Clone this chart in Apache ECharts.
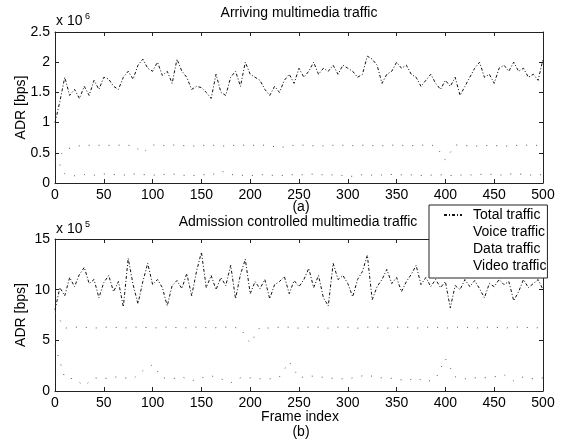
<!DOCTYPE html>
<html>
<head>
<meta charset="utf-8">
<script src="https://cdn.jsdelivr.net/npm/echarts@6/dist/echarts.min.js"></script>
<style>
    html, body { margin: 0; padding: 0; background: #fff; }
    #chart { width: 565px; height: 444px; }
</style>
</head>
<body>
<div id="chart"></div>
<script>
// frame indices (every 5 frames for total, every 10 for the component traffic)
const framesFine = [];
for (let f = 0; f <= 500; f += 5) framesFine.push(f);
const framesCoarse = [];
for (let f = 0; f <= 500; f += 10) framesCoarse.push(f);

// (a) arriving traffic, x 10^6 bps
const arrivingTotal = [
    1.0, 1.35, 1.75, 1.45, 1.55, 1.4, 1.6, 1.45, 1.7, 1.55,
    1.75, 1.72, 1.6, 1.55, 1.75, 1.85, 1.72, 1.95, 2.05, 1.9,
    1.85, 2.0, 1.78, 1.85, 1.65, 2.05, 1.85, 1.75, 1.55, 1.6,
    1.58, 1.5, 1.4, 1.8, 1.5, 1.45, 1.75, 1.85, 1.6, 2.0,
    1.8, 1.75, 1.7, 1.55, 1.45, 1.6, 1.5, 1.7, 1.8, 1.65,
    1.9, 1.75, 1.85, 2.0, 1.8, 1.9, 1.85, 1.95, 1.8, 1.95,
    1.9, 1.85, 1.75, 1.8, 2.1, 2.05, 1.95, 1.65, 1.8, 1.85,
    2.0, 1.9, 1.95, 1.8, 1.75, 1.6, 1.7, 1.8, 1.65, 1.55,
    1.7, 1.6, 1.75, 1.45, 1.6, 1.75, 1.9, 2.0, 1.75, 1.8,
    1.65, 1.9, 1.95, 1.85, 2.0, 1.85, 1.9, 1.75, 1.8, 1.7,
    2.05
];
const arrivingVoice = [
    0.35, 0.55, 0.6, 0.63, 0.62, 0.63, 0.62, 0.63, 0.62, 0.5,
    0.63, 0.62, 0.63, 0.62, 0.61, 0.62, 0.63, 0.61, 0.62, 0.63,
    0.62, 0.63, 0.62, 0.58, 0.62, 0.63, 0.62, 0.61, 0.62, 0.63,
    0.62, 0.62, 0.63, 0.61, 0.62, 0.63, 0.62, 0.62, 0.63, 0.62,
    0.38, 0.63, 0.62, 0.61, 0.62, 0.62, 0.61, 0.62, 0.63, 0.62,
    0.63
];
const arrivingData = [
    0.45, 0.15, 0.12, 0.14, 0.13, 0.15, 0.14, 0.13, 0.15, 0.14,
    0.13, 0.14, 0.15, 0.13, 0.12, 0.14, 0.13, 0.2, 0.14, 0.13,
    0.12, 0.14, 0.13, 0.12, 0.14, 0.13, 0.15, 0.14, 0.13, 0.14,
    0.1, 0.13, 0.14, 0.12, 0.15, 0.13, 0.14, 0.13, 0.12, 0.14,
    0.13, 0.12, 0.14, 0.13, 0.15, 0.14, 0.13, 0.16, 0.14, 0.13,
    0.14
];

// (b) admission controlled traffic, x 10^5 bps
const admittedTotal = [
    8.0, 10.2, 9.4, 11.2, 10.3, 11.5, 12.2, 10.6, 11.0, 9.2,
    10.7, 11.4, 9.8, 10.8, 8.3, 13.1, 10.5, 8.6, 10.8, 12.6,
    10.5, 11.0, 10.2, 8.4, 10.4, 10.9, 10.1, 11.6, 9.4, 11.8,
    13.7, 10.2, 11.4, 10.0, 11.2, 10.4, 12.4, 9.1, 11.5, 13.0,
    9.6, 10.8, 10.1, 11.0, 9.1, 10.5, 10.8, 11.3, 9.6, 10.9,
    10.3, 11.0, 12.1, 10.2, 11.4, 9.2, 8.4, 12.6, 11.0, 11.4,
    10.6, 9.3, 11.0, 11.8, 13.4, 9.0, 10.3, 11.0, 12.0, 10.6,
    11.2, 9.8, 10.8, 11.5, 12.4, 10.5, 11.2, 10.3, 11.0, 10.2,
    10.8, 8.2, 10.4, 10.0, 11.0, 10.3, 10.9, 10.1, 9.2, 10.6,
    10.3, 11.0, 10.5, 10.8, 8.9, 9.8, 11.0, 10.2, 10.6, 11.0,
    10.0
];
const admittedVoice = [
    7.8, 6.2, 6.3, 6.3, 6.2, 6.3, 6.3, 6.2, 6.3, 6.3,
    6.2, 6.3, 6.3, 6.2, 6.3, 6.3, 6.2, 6.3, 6.3, 6.2,
    4.7, 6.3, 6.2, 6.3, 6.3, 6.2, 6.3, 6.3, 6.2, 6.3,
    6.3, 6.2, 6.3, 6.3, 6.2, 6.3, 6.3, 6.2, 6.3, 6.3,
    6.2, 6.3, 6.3, 6.2, 6.3, 6.3, 6.2, 6.3, 6.3, 6.2,
    6.3
];
const admittedData = [
    4.5, 1.3, 1.2, 0.5, 1.3, 1.2, 1.4, 1.3, 1.2, 2.0,
    2.6, 1.3, 1.2, 1.4, 1.0, 1.3, 1.5, 1.2, 0.8, 1.3,
    1.3, 1.2, 1.2, 1.4, 2.9, 1.3, 1.5, 1.4, 1.3, 1.2,
    1.2, 1.4, 1.6, 1.3, 1.3, 1.2, 1.0, 1.3, 0.9, 1.2,
    3.2, 1.4, 1.2, 1.3, 1.3, 1.4, 1.6, 1.0, 1.4, 1.2,
    1.3
];
const admittedVideo = [];

const xTicks = { min: 0, max: 500, interval: 50 };
const yTicksA = { min: 0, max: 2.5, interval: 0.5 };
const yTicksB = { min: 0, max: 15, interval: 5 };

const FONT = "Liberation Sans";
const totalStyle = { color: "#111", width: 1, type: [3, 2, 1, 2] };
const faintStyle = { color: "#555", width: 1, type: [1, 9] };

function pairs(xs, ys) {
    return ys.map(function (v, i) {
        return [xs[i], v];
    });
}

// box style axes like a matlab figure: ticks inward on all four sides
function boxX(gridIndex, showLabels, position) {
    return {
        type: "value",
        gridIndex: gridIndex,
        position: position,
        min: xTicks.min,
        max: xTicks.max,
        interval: xTicks.interval,
        axisLine: { show: true, onZero: false, lineStyle: { color: "#222", width: 1 } },
        axisTick: { show: true, inside: true, length: 4, lineStyle: { color: "#222" } },
        axisLabel: { show: showLabels, color: "#000", fontFamily: FONT, fontSize: 14, margin: 5 },
        splitLine: { show: false },
    };
}
function boxY(gridIndex, ticks, showLabels, position) {
    const axis = {
        type: "value",
        gridIndex: gridIndex,
        position: position,
        min: ticks.min,
        max: ticks.max,
        interval: ticks.interval,
        axisLine: { show: true, onZero: false, lineStyle: { color: "#222", width: 1 } },
        axisTick: { show: true, inside: true, length: 4, lineStyle: { color: "#222" } },
        axisLabel: { show: showLabels, color: "#000", fontFamily: FONT, fontSize: 14, margin: 5 },
        splitLine: { show: false },
    };
    if (showLabels) {
        axis.name = "ADR [bps]";
        axis.nameLocation = "middle";
        axis.nameGap = 27;
        axis.nameMoveOverlap = false;
        axis.nameTextStyle = { color: "#000", fontFamily: FONT, fontSize: 14 };
    }
    return axis;
}

const chart = echarts.init(document.getElementById("chart"));

const textStyle = { color: "#000", fontFamily: FONT, fontSize: 14, fontWeight: "normal" };
const expStyle = { color: "#000", fontFamily: FONT, fontSize: 14, fontWeight: "normal" };
const supStyle = { color: "#000", fontFamily: FONT, fontSize: 9, fontWeight: "normal" };

function label(text, left, top, style, align) {
    return { text: text, left: left, top: top, padding: 0, textAlign: align || "left", textStyle: style };
}

const option = {
    animation: false,
    backgroundColor: "#fff",
    title: [
        label("Arriving multimedia traffic", 299, 6, textStyle, "center"),
        label("x 10", 56, 14, expStyle),
        label("6", 85, 12, supStyle),
        label("(a)", 301, 200, textStyle, "center"),
        label("Admission controlled multimedia traffic", 298, 215, textStyle, "center"),
        label("x 10", 56, 222, expStyle),
        label("5", 85, 220, supStyle),
        label("Frame index", 300, 410, textStyle, "center"),
        label("(b)", 301, 425, textStyle, "center"),
    ],
    legend: {
        orient: "vertical",
        left: 429,
        top: 205,
        padding: [3, 1, 5, 14],
        itemGap: 3,
        itemWidth: 18,
        itemHeight: 14,
        backgroundColor: "#fff",
        borderColor: "#222",
        borderWidth: 1,
        borderRadius: 0,
        textStyle: { color: "#000", fontFamily: FONT, fontSize: 14, padding: [0, 0, 0, 6] },
        data: [
            { name: "Total traffic", itemStyle: { opacity: 0 } },
            { name: "Voice traffic", lineStyle: { opacity: 0 }, itemStyle: { opacity: 0 } },
            { name: "Data traffic", lineStyle: { opacity: 0 }, itemStyle: { opacity: 0 } },
            { name: "Video traffic", lineStyle: { opacity: 0 }, itemStyle: { opacity: 0 } },
        ],
        z: 10,
    },
    grid: [
        { left: 55, top: 32, width: 488, height: 151 },
        { left: 55, top: 239, width: 488, height: 152 },
    ],
    xAxis: [
        boxX(0, true, "bottom"),
        boxX(0, false, "top"),
        boxX(1, true, "bottom"),
        boxX(1, false, "top"),
    ],
    yAxis: [
        boxY(0, yTicksA, true, "left"),
        boxY(0, yTicksA, false, "right"),
        boxY(1, yTicksB, true, "left"),
        boxY(1, yTicksB, false, "right"),
    ],
    series: [
        { name: "Total traffic", type: "line", xAxisIndex: 0, yAxisIndex: 0, symbol: "none",
          lineStyle: totalStyle, itemStyle: { color: "#111" }, data: pairs(framesFine, arrivingTotal) },
        { name: "Voice traffic", type: "line", xAxisIndex: 0, yAxisIndex: 0, symbol: "none",
          lineStyle: faintStyle, itemStyle: { color: "#555" }, data: pairs(framesCoarse, arrivingVoice) },
        { name: "Data traffic", type: "line", xAxisIndex: 0, yAxisIndex: 0, symbol: "none",
          lineStyle: faintStyle, itemStyle: { color: "#555" }, data: pairs(framesCoarse, arrivingData) },
        { name: "Total traffic", type: "line", xAxisIndex: 2, yAxisIndex: 2, symbol: "none",
          lineStyle: totalStyle, itemStyle: { color: "#111" }, data: pairs(framesFine, admittedTotal) },
        { name: "Voice traffic", type: "line", xAxisIndex: 2, yAxisIndex: 2, symbol: "none",
          lineStyle: faintStyle, itemStyle: { color: "#555" }, data: pairs(framesCoarse, admittedVoice) },
        { name: "Data traffic", type: "line", xAxisIndex: 2, yAxisIndex: 2, symbol: "none",
          lineStyle: faintStyle, itemStyle: { color: "#555" }, data: pairs(framesCoarse, admittedData) },
        { name: "Video traffic", type: "line", xAxisIndex: 2, yAxisIndex: 2, symbol: "none",
          lineStyle: faintStyle, itemStyle: { color: "#555" }, data: admittedVideo },
    ],
};

chart.setOption(option);
</script>
</body>
</html>
